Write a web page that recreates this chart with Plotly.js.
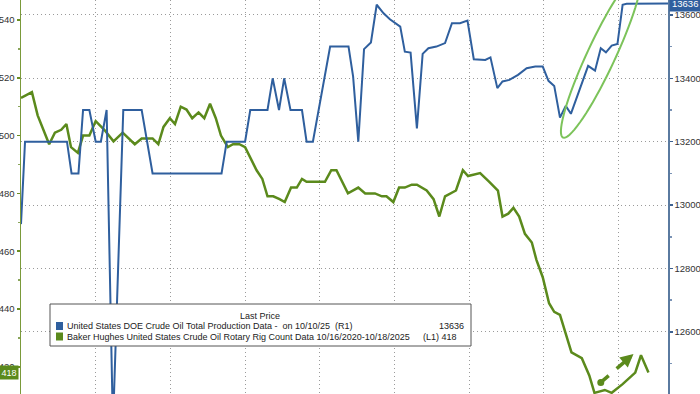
<!DOCTYPE html>
<html>
<head>
<meta charset="utf-8">
<script src="https://cdn.plot.ly/plotly-3.0.1.min.js"></script>
<style>html,body{margin:0;padding:0;background:#fff;}#chart{width:700px;height:394px;}</style>
</head>
<body>
<div id="chart"></div>
<script>
// Week index from the left edge of the chart window
const blueWeek = [0, 0.7, 8.0, 8.8, 10.0, 10.8, 11.9, 13.0, 13.9, 14.9, 16.0, 17.8, 21.0, 22.9, 34.9, 35.8, 39.0, 39.9, 42.9, 43.8, 44.9, 45.8, 46.9, 48.9, 49.7, 50.8, 53.8, 57.0, 57.8, 58.7, 59.7, 60.9, 61.9, 63.1, 64.2, 66.0, 66.8, 67.8, 68.9, 69.9, 70.9, 72.3, 73.8, 75.0, 76.4, 77.7, 78.8, 79.9, 80.8, 81.7, 82.9, 83.8, 85.0, 86.5, 88.0, 89.5, 90.8, 91.8, 92.8, 93.8, 94.8, 95.7, 98.7, 99.9, 100.9, 101.8, 102.8, 103.8, 104.7, 105.4, 112.6];
const productionValue = [12940, 13200, 13200, 13100, 13100, 13300, 13300, 13200, 13200, 13300, 12300, 13300, 13300, 13100, 13100, 13200, 13200, 13300, 13300, 13400, 13300, 13400, 13300, 13300, 13200, 13200, 13500, 13500, 13405, 13200, 13492, 13513, 13632, 13605, 13586, 13563, 13484, 13481, 13242, 13477, 13495, 13500, 13511, 13574, 13574, 13582, 13460, 13460, 13458, 13466, 13369, 13390, 13395, 13411, 13432, 13437, 13437, 13392, 13376, 13276, 13313, 13288, 13439, 13424, 13495, 13482, 13503, 13508, 13632, 13635, 13636];

const rigWeek = [0, 1.9, 2.9, 3.9, 4.9, 5.9, 7.0, 7.9, 8.7, 9.9, 10.8, 11.9, 13.0, 14.5, 16.1, 17.7, 19.8, 21.0, 22.9, 23.9, 24.8, 25.9, 26.8, 27.8, 28.8, 29.8, 30.9, 31.9, 32.9, 33.9, 34.8, 36.0, 36.9, 38.0, 39.0, 41.0, 42.0, 42.9, 43.9, 45.0, 45.9, 47.0, 48.0, 48.9, 49.7, 52.9, 54.0, 54.9, 56.9, 58.7, 59.9, 61.6, 62.8, 63.6, 64.8, 65.8, 66.8, 68.0, 68.9, 70.6, 71.8, 72.8, 73.8, 75.7, 76.9, 77.8, 79.9, 81.5, 83.0, 83.8, 84.8, 85.7, 86.7, 87.7, 88.9, 89.7, 90.8, 91.9, 92.8, 93.8, 95.8, 97.6, 98.9, 99.8, 101.6, 102.8, 104.7, 106.9, 107.9, 109.2];
const rigCount = [513, 515, 507, 502, 497, 501, 502, 504, 496, 494, 500, 500, 505, 502, 498, 501, 497, 499, 499, 497, 503, 506, 504, 510, 509, 506, 508, 506, 511, 506, 500, 496, 497, 497, 496, 488, 485, 479, 479, 478, 477, 482, 482, 485, 484, 484, 488, 488, 480, 482, 480, 480, 479, 479, 477, 482, 482, 483, 483, 481, 478, 472, 479, 481, 488, 486, 487, 484, 481, 472, 473, 475, 472, 466, 463, 457, 451, 442, 439, 438, 425, 423, 417, 411, 412, 411, 414, 418, 424, 418];

const legendTitle = "Last Price";
const seriesNames = ["United States DOE Crude Oil Total Production Data -\u00a0\u00a0on 10/10/25\u00a0\u00a0(R1)",
                     "Baker Hughes United States Crude Oil Rotary Rig Count Data 10/16/2020-10/18/2025"];
const lastValues = ["13636", "(L1) 418"];

const BLUE = "#2f5f9e", GREEN = "#5b8a1c", FONT = "Liberation Sans, Arial, sans-serif";
const W = 700, H = 394, ML = 21, MR = 32;
const PW = W - ML - MR;
const px2x = p => (p - ML) / PW;
const py2y = p => 1 - p / H;

// rotated ellipse highlight (pixel geometry -> paper coords)
function ellipsePath(cx, cy, a, b, deg) {
  const th = deg * Math.PI / 180;
  let d = "";
  for (let i = 0; i <= 72; i++) {
    const t = i / 72 * 2 * Math.PI;
    const x = cx + a * Math.cos(t) * Math.cos(th) - b * Math.sin(t) * Math.sin(th);
    const y = cy - (a * Math.cos(t) * Math.sin(th) + b * Math.sin(t) * Math.cos(th));
    d += (i === 0 ? "M" : "L") + px2x(x).toFixed(5) + "," + py2y(y).toFixed(5);
  }
  return d + "Z";
}

const traces = [
  {x: blueWeek, y: productionValue, yaxis: "y2", type: "scatter", mode: "lines",
   line: {color: BLUE, width: 2}, hoverinfo: "skip"},
  {x: rigWeek, y: rigCount, yaxis: "y", type: "scatter", mode: "lines",
   line: {color: GREEN, width: 2.5}, hoverinfo: "skip"}
];

const shapes = [
  {type: "path", xref: "paper", yref: "paper", path: ellipsePath(601, 56, 90, 14, 65),
   line: {color: "#7cc35a", width: 2}, layer: "above"},
  {type: "line", xref: "x", yref: "y", x0: 100.9, y0: 414.6, x1: 105.2, y1: 422.0,
   line: {color: GREEN, width: 3.5, dash: "dash"}},
  {type: "circle", xref: "x", yref: "y", xsizemode: "pixel", ysizemode: "pixel",
   xanchor: 100.9, yanchor: 414.6, x0: -3.5, x1: 3.5, y0: -3.5, y1: 3.5,
   fillcolor: GREEN, line: {color: GREEN, width: 0}},
  // legend box
  {type: "rect", xref: "paper", yref: "paper", x0: px2x(50), x1: px2x(471), y0: py2y(346), y1: py2y(304),
   fillcolor: "#ffffff", line: {color: "#555", width: 1}, layer: "above"},
  {type: "rect", xref: "paper", yref: "paper", x0: px2x(56), x1: px2x(63), y0: py2y(330), y1: py2y(322),
   fillcolor: BLUE, line: {width: 0}, layer: "above"},
  {type: "rect", xref: "paper", yref: "paper", x0: px2x(56), x1: px2x(63), y0: py2y(340.5), y1: py2y(332.5),
   fillcolor: GREEN, line: {width: 0}, layer: "above"}
];

const lf = {family: FONT, size: 9, color: "#222"};
const annotations = [
  {xref: "x", yref: "y", x: 106.6, y: 424.4, ax: 105.3, ay: 422.2, axref: "x", ayref: "y",
   showarrow: true, arrowhead: 2, arrowsize: 0.75, arrowwidth: 3.5, arrowcolor: GREEN, text: ""},
  {xref: "paper", yref: "paper", x: px2x(260), y: py2y(315.5), text: legendTitle, showarrow: false,
   xanchor: "center", yanchor: "middle", font: lf},
  {xref: "paper", yref: "paper", x: px2x(65), y: py2y(326), text: seriesNames[0], showarrow: false,
   xanchor: "left", yanchor: "middle", font: lf},
  {xref: "paper", yref: "paper", x: px2x(65), y: py2y(336.5), text: seriesNames[1], showarrow: false,
   xanchor: "left", yanchor: "middle", font: lf},
  {xref: "paper", yref: "paper", x: px2x(466), y: py2y(326), text: lastValues[0], showarrow: false,
   xanchor: "right", yanchor: "middle", font: lf},
  {xref: "paper", yref: "paper", x: px2x(421), y: py2y(336.5), text: lastValues[1], showarrow: false,
   xanchor: "left", yanchor: "middle", font: lf},
  // last value badges
  {xref: "paper", yref: "y", x: 0, y: rigCount[rigCount.length - 1], text: String(rigCount[rigCount.length - 1]),
   showarrow: false, xanchor: "right", yanchor: "middle", xshift: -2, bgcolor: GREEN, borderpad: 1.5,
   font: {family: FONT, size: 9, color: "#fff"}},
  {xref: "paper", yref: "y2", x: 1, y: productionValue[productionValue.length - 1],
   text: String(productionValue[productionValue.length - 1]),
   showarrow: false, xanchor: "left", yanchor: "middle", xshift: 1, bgcolor: BLUE, borderpad: 2,
   font: {family: FONT, size: 9.5, color: "#fff"}}
];

const layout = {
  width: W, height: H,
  margin: {l: ML, r: MR, t: 0, b: 0, pad: 0},
  paper_bgcolor: "#fff", plot_bgcolor: "#fff",
  showlegend: false,
  font: {family: FONT, size: 9.5, color: "#333"},
  xaxis: {range: [0, 112.6], tick0: 0, dtick: 13, showticklabels: false, ticks: "",
          showgrid: true, gridcolor: "#9a9a9a", griddash: "1px,3px", gridwidth: 1,
          zeroline: false, showline: false, fixedrange: true},
  yaxis: {range: [410.6, 546.9], tick0: 0, dtick: 20, side: "left",
          showgrid: false, zeroline: false, showline: true, linecolor: "#7a9a3a", linewidth: 1.5,
          ticks: "outside", ticklen: 3, tickcolor: "#6b8e23", tickwidth: 1.5, ticklabelstandoff: 0,
          minor: {dtick: 10, ticks: "outside", ticklen: 2, tickcolor: "#8aa55a"},
          tickfont: {family: FONT, size: 9.5, color: "#333"}},
  yaxis2: {range: [12404, 13647], tick0: 0, dtick: 200, side: "right", overlaying: "y",
           tickformat: "d",
           showgrid: true, gridcolor: "#9a9a9a", griddash: "1px,3px", gridwidth: 1,
           zeroline: false, showline: true, linecolor: "#5a7aa0", linewidth: 1.5,
           ticks: "outside", ticklen: 3, tickcolor: "#3d6190", tickwidth: 1.5, ticklabelstandoff: 0,
           minor: {dtick: 100, ticks: "outside", ticklen: 2, tickcolor: "#7a93b5"},
           tickfont: {family: FONT, size: 9.5, color: "#333"}},
  shapes: shapes,
  annotations: annotations
};

Plotly.newPlot("chart", traces, layout, {staticPlot: true, displayModeBar: false});
</script>
</body>
</html>
